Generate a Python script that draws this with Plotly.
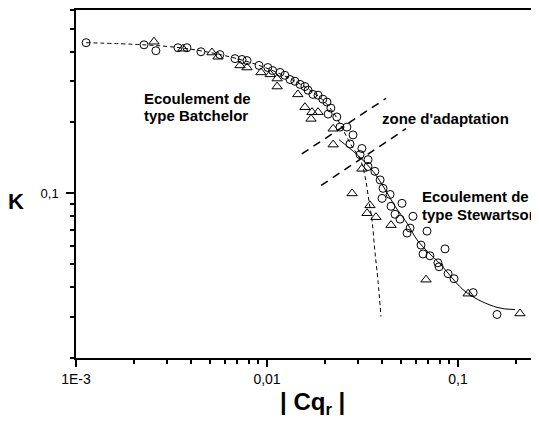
import plotly.graph_objects as go

circle_cq = [0.00113, 0.00227, 0.00262, 0.00342, 0.00381, 0.00451, 0.00567, 0.00680, 0.00740, 0.00786,
             0.00908, 0.0101, 0.0107, 0.0117, 0.0124, 0.0132, 0.0140, 0.0149, 0.0158, 0.0164,
             0.0174, 0.0185, 0.0196, 0.0206, 0.0209, 0.0216, 0.0232, 0.0241, 0.0262, 0.0282,
             0.0272, 0.0314, 0.0307, 0.0338, 0.0338, 0.0367, 0.0391, 0.0405, 0.0441, 0.0400,
             0.0446, 0.0509, 0.0468, 0.0497, 0.0581, 0.0561, 0.0541, 0.0688, 0.0640, 0.0656,
             0.0855, 0.0713, 0.0785, 0.0796, 0.0887, 0.0953, 0.120, 0.160]
circle_k = [0.436, 0.427, 0.403, 0.415, 0.415, 0.399, 0.388, 0.373, 0.370, 0.366,
            0.349, 0.342, 0.332, 0.326, 0.317, 0.304, 0.299, 0.290, 0.284, 0.274,
            0.263, 0.261, 0.251, 0.244, 0.217, 0.230, 0.211, 0.191, 0.191, 0.177,
            0.162, 0.155, 0.146, 0.139, 0.130, 0.124, 0.114, 0.105, 0.0989, 0.0952,
            0.0881, 0.0907, 0.0815, 0.0777, 0.0799, 0.0712, 0.0678, 0.0691, 0.0603, 0.0553,
            0.0581, 0.0543, 0.0507, 0.0488, 0.0456, 0.0434, 0.0379, 0.0306]

tri_cq = [0.00256, 0.00363, 0.00515, 0.00554, 0.00722, 0.00786, 0.00930, 0.0104, 0.0113, 0.0113,
          0.0145, 0.0158, 0.0172, 0.0185, 0.0170, 0.0222, 0.0222, 0.0314, 0.0279, 0.0346,
          0.0334, 0.0372, 0.0446, 0.0680, 0.113, 0.211]
tri_k = [0.440, 0.411, 0.396, 0.380, 0.349, 0.342, 0.326, 0.320, 0.307, 0.284,
         0.263, 0.232, 0.221, 0.221, 0.207, 0.188, 0.161, 0.127, 0.0999, 0.0889,
         0.0823, 0.0792, 0.0733, 0.0430, 0.0375, 0.0309]

# model curves
batchelor_cq = [0.00113, 0.00227, 0.00350, 0.00503, 0.00722, 0.00976, 0.0132, 0.0168, 0.0201, 0.0227,
                0.0250, 0.0279, 0.0307, 0.0326, 0.0342, 0.0355, 0.0367, 0.0381, 0.0395]
batchelor_k = [0.436, 0.427, 0.415, 0.396, 0.370, 0.342, 0.307, 0.274, 0.244, 0.215,
               0.186, 0.158, 0.140, 0.118, 0.0924, 0.0762, 0.0569, 0.0426, 0.0300]

stewartson_cq = [0.0238, 0.0296, 0.0359, 0.0415, 0.0468, 0.0541, 0.0617, 0.0805, 0.111, 0.160, 0.199]
stewartson_k = [0.169, 0.146, 0.124, 0.104, 0.0881, 0.0747, 0.0627, 0.0502, 0.0379, 0.0328, 0.0321]

# limits of the adaptation zone
zone_upper_cq = [0.0152, 0.0420]
zone_upper_k = [0.147, 0.253]
zone_lower_cq = [0.0192, 0.0534]
zone_lower_k = [0.108, 0.188]

x_tickvals = [0.001, 0.01, 0.1]
x_ticktext = ["1E-3", "0,01", "0,1"]
x_minor = [m * d for d in (0.001, 0.01, 0.1) for m in range(2, 10)]
y_tickvals = [0.1]
y_ticktext = ["0,1"]
y_minor = [m * 0.01 for m in range(2, 10)] + [m * 0.1 for m in range(2, 7)]

FONT = "Liberation Sans, Arial, sans-serif"

fig = go.Figure()

fig.add_trace(go.Scatter(x=batchelor_cq, y=batchelor_k, mode='lines', line_shape='spline',
                         line=dict(color='black', width=1, dash='4px,3px'), showlegend=False))
fig.add_trace(go.Scatter(x=stewartson_cq, y=stewartson_k, mode='lines', line_shape='spline',
                         line=dict(color='black', width=1), showlegend=False))
for zx, zy in [(zone_upper_cq, zone_upper_k), (zone_lower_cq, zone_lower_k)]:
    fig.add_trace(go.Scatter(x=zx, y=zy, mode='lines',
                             line=dict(color='black', width=1.5, dash='8px,6px'), showlegend=False))

fig.add_trace(go.Scatter(x=circle_cq, y=circle_k, mode='markers',
                         marker=dict(symbol='circle-open', size=8, color='black', line=dict(width=1)),
                         showlegend=False))
fig.add_trace(go.Scatter(x=tri_cq, y=tri_k, mode='markers',
                         marker=dict(symbol='triangle-up-open', size=9, color='black', line=dict(width=1)),
                         showlegend=False))

ann_font = dict(family=FONT, size=15, color='black', weight='bold')
labels = [
    ("Ecoulement de", 0.143, 0.745),
    ("type Batchelor", 0.143, 0.698),
    ("zone d'adaptation", 0.657, 0.687),
    ("Ecoulement de", 0.744, 0.464),
    ("type Stewartson", 0.744, 0.413),
]
for text, ax, ay in labels:
    fig.add_annotation(text=text, x=ax, y=ay, xref='paper', yref='paper', xanchor='left',
                       yanchor='middle', showarrow=False, font=ann_font)

fig.add_annotation(text="K", x=-0.13, y=0.45, xref='paper', yref='paper', xanchor='center',
                   yanchor='middle', showarrow=False,
                   font=dict(family=FONT, size=22, color='black', weight='bold'))
fig.add_annotation(text="| Cq<sub>r</sub> |", x=0.51, y=-0.13, xref='paper', yref='paper',
                   xanchor='center', yanchor='middle', showarrow=False,
                   font=dict(family=FONT, size=24, color='black', weight='bold'))

fig.update_xaxes(type='log', range=[-3, -0.576], showline=True, linecolor='black', linewidth=1.5,
                 mirror=True, showgrid=False, zeroline=False, ticks='outside', ticklen=7, tickwidth=1.5,
                 tickcolor='black', tickvals=x_tickvals, ticktext=x_ticktext,
                 tickfont=dict(family=FONT, size=14, color='black'),
                 minor=dict(tickvals=x_minor, ticks='outside', ticklen=4, tickwidth=1.5,
                            tickcolor='black', showgrid=False))
fig.update_yaxes(type='log', range=[-1.699, -0.2218], showline=True, linecolor='black', linewidth=1.5,
                 mirror=False, showgrid=False, zeroline=False, ticks='outside', ticklen=8, tickwidth=1.5,
                 tickcolor='black', tickvals=y_tickvals, ticktext=y_ticktext, ticklabelstandoff=5,
                 tickfont=dict(family=FONT, size=13, color='black'),
                 minor=dict(tickvals=y_minor, ticks='outside', ticklen=4, tickwidth=1.5,
                            tickcolor='black', showgrid=False))

# page body has an 8px margin, so the figure is sized to the visible area
fig.update_layout(width=531, height=420, margin=dict(l=68, r=0, t=0, b=70),
                  plot_bgcolor='white', paper_bgcolor='white', showlegend=False)

fig.write_html("out.html")
